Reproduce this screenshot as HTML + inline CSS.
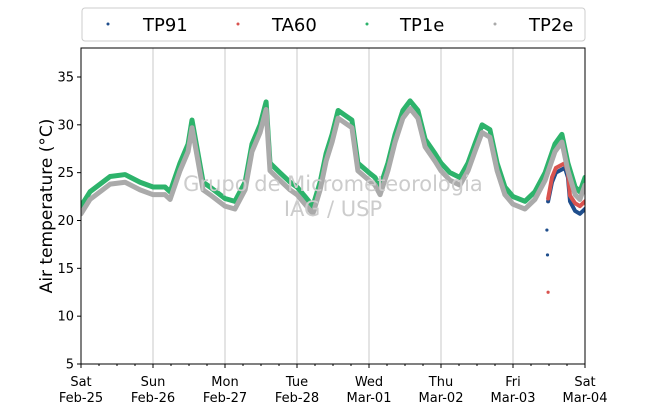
<!DOCTYPE html>
<html><head><meta charset="utf-8"><style>
body{margin:0;background:#fff;font-family:"Liberation Sans","DejaVu Sans",sans-serif}
svg text{font-family:"DejaVu Sans","Liberation Sans",sans-serif}
</style></head><body>
<svg id="chart" width="650" height="409" viewBox="0 0 650 409" xmlns="http://www.w3.org/2000/svg">
<defs><clipPath id="plotclip"><rect x="81" y="48" width="504" height="316"/></clipPath></defs>
<g id="grid"></g>
<g id="series" clip-path="url(#plotclip)"></g>
<text x="333" y="191" text-anchor="middle" font-size="21" fill="#ccc">Grupo de Micrometeorologia</text>
<text x="333" y="216" text-anchor="middle" font-size="21" fill="#ccc">IAG / USP</text>
<rect x="81" y="48" width="504" height="316" fill="none" stroke="#000" stroke-width="1"/>
<g id="axes"></g>
<text transform="translate(52,206) rotate(-90)" text-anchor="middle" font-size="17">Air temperature (°C)</text>
<g>
<rect x="82" y="8" width="503" height="33" rx="3" fill="#fff" stroke="#ccc"/>
<g><circle cx="108" cy="24" r="1.5" fill="#1f4e8c"/><text x="143" y="31" font-size="18">TP91</text></g>
<g><circle cx="238" cy="24" r="1.5" fill="#d9534f"/><text x="272" y="31" font-size="18">TA60</text></g>
<g><circle cx="367" cy="24" r="1.5" fill="#2db36b"/><text x="400" y="31" font-size="18">TP1e</text></g>
<g><circle cx="495" cy="24" r="1.5" fill="#aaa"/><text x="529" y="31" font-size="18">TP2e</text></g>
</g>
</svg>
<script>
const dayLabels=["Sat","Sun","Mon","Tue","Wed","Thu","Fri","Sat"];
const dateLabels=["Feb-25","Feb-26","Feb-27","Feb-28","Mar-01","Mar-02","Mar-03","Mar-04"];
const yTicks=[5,10,15,20,25,30,35];
const tp1eHours=[0,3,9.7,14.7,19.7,24,28,29.7,33,35.7,37,39,40.7,43,48,51.3,54.7,57,59.7,61.7,63,66.3,69.7,72,74.7,77.3,79.7,81.7,83.7,85.7,88,90.3,92.3,96,98,99.7,102.3,104.7,107.3,109.7,112.3,114.7,118,120,123,126.3,129,131.3,133.7,136.3,138.7,141.3,144,148,151.3,154.7,158,160.3,162.3,164.7,166.3,168];
const tp1eValues=[21.5,23,24.6,24.8,24,23.5,23.5,23,26,28,30.5,27,24,23.5,22.3,22,24,28,30,32.4,26,25,24,23.5,22.5,21.5,24,27,29,31.5,31,30.5,26,25,24.5,23.5,26,29,31.5,32.5,31.5,28.5,27,26,25,24.5,26,28,30,29.5,26,23.5,22.5,22,23,25,28,29,26,23.5,23,24.5];
const tp2eValues=tp1eValues.map(v=>v-0.8);
const tp91Hours=[155.7,157,158.3,161.3,162.3,163,164.7,166.3,168];
const tp91Values=[22,24,25,25.5,24.5,22,21,20.7,21.2];
const ta60Hours=[155.7,157,158.3,161.3,162.3,163,164.7,166.3,168];
const ta60Values=[22.3,24.5,25.5,26,25,22.6,21.8,21.5,22];
const tp91OutlierHours=[155.3,155.5];
const tp91OutlierValues=[19,16.4];
const ta60OutlierHours=[155.7];
const ta60OutlierValues=[12.5];

const NS="http://www.w3.org/2000/svg";
const X0=81,X1=585,Y0=364,Y1=48,YMIN=5,YMAX=38.03,HMAX=168;
const xs=h=>X0+(h/HMAX)*(X1-X0);
const ys=v=>Y0-(v-YMIN)/(YMAX-YMIN)*(Y0-Y1);
function mk(tag,attrs,parent){const e=document.createElementNS(NS,tag);for(const k in attrs)e.setAttribute(k,attrs[k]);parent.appendChild(e);return e;}
const grid=document.getElementById('grid'),axes=document.getElementById('axes'),series=document.getElementById('series');
dayLabels.forEach((d,i)=>{
  const x=xs(i*24);
  if(i>0&&i<7){const g=mk('line',{x1:x,x2:x,y1:Y1,y2:Y0,stroke:'#c8c8c8','stroke-width':1},grid);
  
  }
  mk('line',{x1:x,x2:x,y1:Y0,y2:Y0+4,stroke:'#000'},axes);
  const t=mk('text',{x:x,y:386,'text-anchor':'middle','font-size':13},axes);t.textContent=d;
  
  
  const t2=mk('text',{x:x,y:402,'text-anchor':'middle','font-size':13},axes);t2.textContent=dateLabels[i];
  
  
  if(i<7)for(const m of [6,12,18])mk('line',{x1:xs(i*24+m),x2:xs(i*24+m),y1:Y0,y2:Y0+2,stroke:'#000'},axes);
});
yTicks.forEach(v=>{const y=ys(v);mk('line',{x1:X0-4,x2:X0,y1:y,y2:y,stroke:'#000'},axes);
  const t=mk('text',{x:X0-7,y:y+4.5,'text-anchor':'end','font-size':13},axes);t.textContent=v;
  
  });
function line(hours,vals,color,w,name){
  const p=mk('polyline',{points:hours.map((h,i)=>xs(h)+','+ys(vals[i])).join(' '),fill:'none',stroke:color,'stroke-width':w,'stroke-linejoin':'round','stroke-linecap':'round'},series);
  
  
}
function dots(hours,vals,color,name){hours.forEach((h,i)=>{const c=mk('circle',{cx:xs(h),cy:ys(vals[i]),r:1.6,fill:color},series);
  
  });}
line(tp1eHours,tp1eValues,'#2db36b',5,'series-tp1e');
line(tp91Hours,tp91Values,'#1f4e8c',4,'series-tp91');
line(ta60Hours,ta60Values,'#d9534f',4,'series-ta60');
line(tp1eHours,tp2eValues,'#aaaaaa',5,'series-tp2e');
dots(tp91OutlierHours,tp91OutlierValues,'#1f4e8c','tp91-outlier');
dots(ta60OutlierHours,ta60OutlierValues,'#d9534f','ta60-outlier');
</script>
</body></html>
